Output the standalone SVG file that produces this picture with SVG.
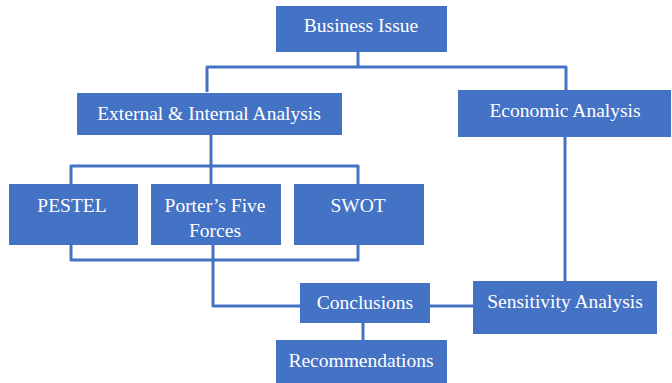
<svg xmlns="http://www.w3.org/2000/svg" width="672" height="383" viewBox="0 0 672 383">
<style>
.box{fill:#4472C4;}
.t{fill:#fff;font-family:"Liberation Serif","Times New Roman",serif;font-size:19.5px;text-anchor:middle;}
.c{fill:none;stroke:#4472C4;stroke-width:3;stroke-linejoin:round;}
</style>
<rect width="672" height="383" fill="#fff"/>
<g id="connectors">
<path class="c" d="M358,52 V67"/>
<path class="c" d="M207,92 V67 H566 V90"/>
<path class="c" d="M211,135 V184"/>
<path class="c" d="M71,184 V166 H358 V184"/>
<path class="c" d="M71,245 V260 H358 V245"/>
<path class="c" d="M213,245 V306 H300"/>
<path class="c" d="M430,306 H473"/>
<path class="c" d="M565,137 V281"/>
<path class="c" d="M363,323 V340"/>
</g>
<g id="business-issue"><rect class="box" x="276" y="6" width="171" height="46"/><text class="t" x="361" y="32">Business Issue</text></g>
<g id="external-internal"><rect class="box" x="77" y="93" width="265" height="42"/><text class="t" x="209" y="120">External &amp; Internal Analysis</text></g>
<g id="economic"><rect class="box" x="458" y="90" width="213" height="47"/><text class="t" x="565" y="117">Economic Analysis</text></g>
<g id="pestel"><rect class="box" x="9" y="184" width="129" height="61"/><text class="t" x="72" y="212">PESTEL</text></g>
<g id="porter"><rect class="box" x="151" y="184" width="130" height="61"/><text class="t" x="215" y="212">Porter’s Five</text><text class="t" x="215" y="237">Forces</text></g>
<g id="swot"><rect class="box" x="294" y="184" width="130" height="61"/><text class="t" x="358" y="212">SWOT</text></g>
<g id="conclusions"><rect class="box" x="300" y="283" width="130" height="40"/><text class="t" x="365" y="309">Conclusions</text></g>
<g id="sensitivity"><rect class="box" x="473" y="281" width="184" height="53"/><text class="t" x="565" y="308">Sensitivity Analysis</text></g>
<g id="recommendations"><rect class="box" x="276" y="340" width="171" height="43"/><text class="t" x="361" y="367">Recommendations</text></g>
</svg>
